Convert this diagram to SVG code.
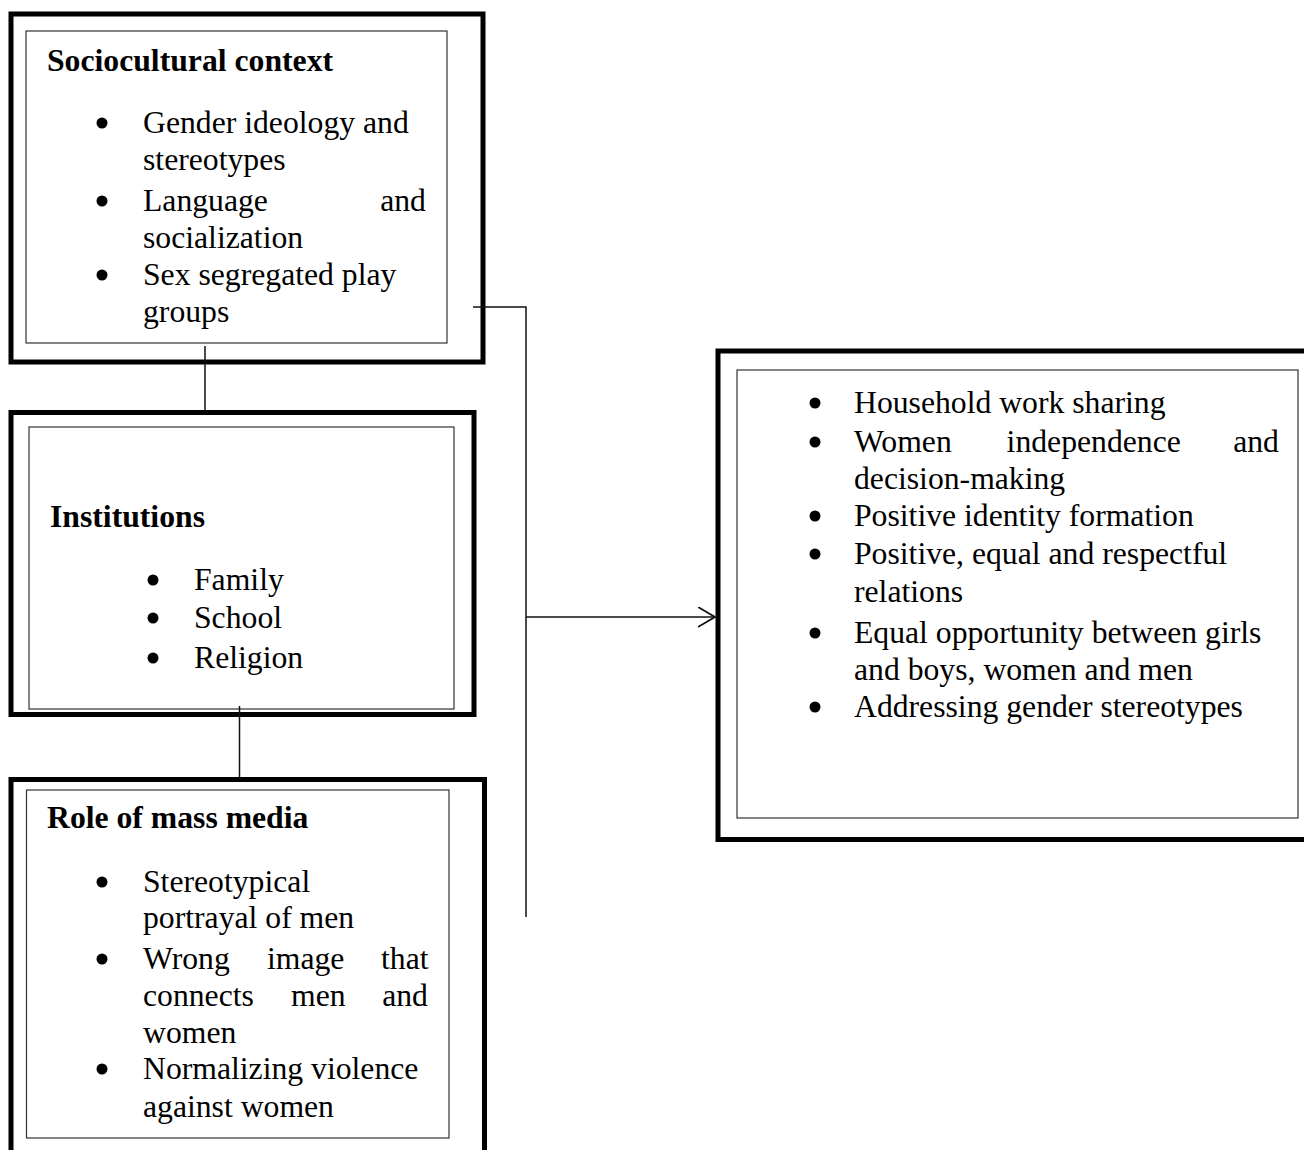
<svg xmlns="http://www.w3.org/2000/svg" width="1304" height="1150" viewBox="0 0 1304 1150">
<style>
.outer{fill:none;stroke:#000;stroke-width:5}
.inner{fill:#fff;stroke:#333;stroke-width:1.2}
.t{font-family:"Liberation Serif","Times New Roman",serif;font-size:31.7px;fill:#000}
.h{font-family:"Liberation Serif","Times New Roman",serif;font-size:31.7px;font-weight:bold;fill:#000}
.b{fill:#000}
.c{fill:none;stroke:#111;stroke-width:1.5}
</style>
<defs>
<marker id="arr" markerWidth="20" markerHeight="24" refX="17" refY="10" orient="auto" markerUnits="userSpaceOnUse">
<path d="M0,0 L17,10 L0,20" fill="none" stroke="#111" stroke-width="1.8"/>
</marker>
</defs>
<rect width="1304" height="1150" fill="#fff"/>

<g id="sociocultural">
<rect class="outer" x="11" y="14" width="472" height="348"/>
<rect class="inner" x="26" y="31" width="421" height="312"/>
<text class="h" x="47" y="70.5">Sociocultural context</text>
<circle class="b" cx="102" cy="123" r="5.5"/>
<text class="t" x="143" y="133">Gender ideology and</text>
<text class="t" x="143" y="170">stereotypes</text>
<circle class="b" cx="102" cy="201" r="5.5"/>
<text class="t" y="211"><tspan x="143">Language</tspan><tspan x="380.2">and</tspan></text>
<text class="t" x="143" y="248">socialization</text>
<circle class="b" cx="102" cy="275" r="5.5"/>
<text class="t" x="143" y="285">Sex segregated play</text>
<text class="t" x="143" y="322">groups</text>
</g>

<g id="institutions">
<rect class="outer" x="11" y="412.5" width="463" height="302"/>
<rect class="inner" x="29" y="427" width="425" height="282"/>
<text class="h" x="50" y="527">Institutions</text>
<circle class="b" cx="153" cy="580" r="5.5"/>
<text class="t" x="194" y="590">Family</text>
<circle class="b" cx="153" cy="618" r="5.5"/>
<text class="t" x="194" y="628">School</text>
<circle class="b" cx="153" cy="658" r="5.5"/>
<text class="t" x="194" y="668">Religion</text>
</g>

<g id="massmedia">
<rect class="outer" x="11" y="779.5" width="473.5" height="390"/>
<rect class="inner" x="26.5" y="790" width="422.5" height="348"/>
<text class="h" x="47" y="828">Role of mass media</text>
<circle class="b" cx="102" cy="882" r="5.5"/>
<text class="t" x="143" y="892">Stereotypical</text>
<text class="t" x="143" y="928">portrayal of men</text>
<circle class="b" cx="102" cy="959" r="5.5"/>
<text class="t" y="969"><tspan x="143">Wrong</tspan><tspan x="267">image</tspan><tspan x="381">that</tspan></text>
<text class="t" y="1006"><tspan x="143">connects</tspan><tspan x="291">men</tspan><tspan x="382.2">and</tspan></text>
<text class="t" x="143" y="1043">women</text>
<circle class="b" cx="102" cy="1069" r="5.5"/>
<text class="t" x="143" y="1079">Normalizing violence</text>
<text class="t" x="143" y="1117">against women</text>
</g>

<g id="outcomes">
<rect class="outer" x="718" y="351" width="592" height="488.5"/>
<rect class="inner" x="737" y="370" width="561" height="448"/>
<circle class="b" cx="815" cy="403" r="5.5"/>
<text class="t" x="854" y="413">Household work sharing</text>
<circle class="b" cx="815" cy="442" r="5.5"/>
<text class="t" y="452"><tspan x="854">Women</tspan><tspan x="1006.6">independence</tspan><tspan x="1233.2">and</tspan></text>
<text class="t" x="854" y="489">decision-making</text>
<circle class="b" cx="815" cy="516" r="5.5"/>
<text class="t" x="854" y="526">Positive identity formation</text>
<circle class="b" cx="815" cy="554" r="5.5"/>
<text class="t" x="854" y="564">Positive, equal and respectful</text>
<text class="t" x="854" y="602">relations</text>
<circle class="b" cx="815" cy="633" r="5.5"/>
<text class="t" x="854" y="643">Equal opportunity between girls</text>
<text class="t" x="854" y="680">and boys, women and men</text>
<circle class="b" cx="815" cy="707" r="5.5"/>
<text class="t" x="854" y="717">Addressing gender stereotypes</text>
</g>

<g id="connectors">
<line class="c" x1="205" y1="346" x2="205" y2="410"/>
<line class="c" x1="239.5" y1="706" x2="239.5" y2="777"/>
<polyline class="c" points="473,307 526,307 526,917"/>
<line class="c" x1="526" y1="617" x2="715" y2="617" marker-end="url(#arr)"/>
</g>
</svg>
